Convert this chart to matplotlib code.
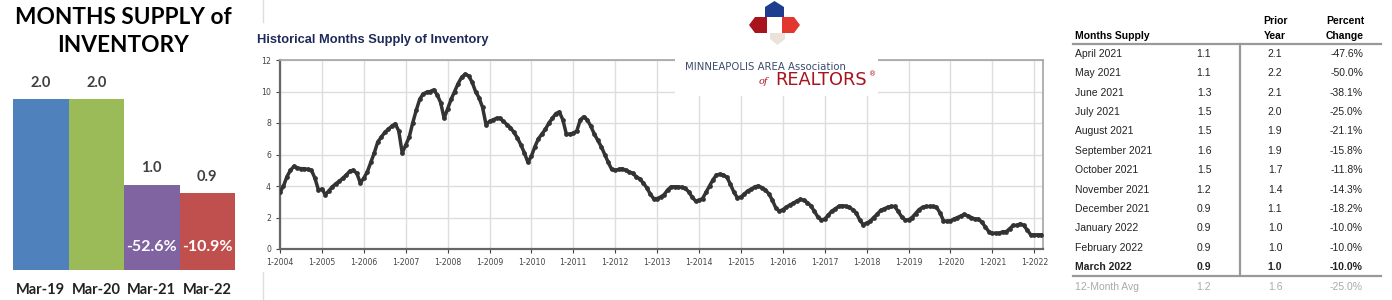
import matplotlib
matplotlib.use('Agg')
import matplotlib.pyplot as plt
from matplotlib.patches import Polygon, Rectangle
import numpy as np

# ---- bar panel data
bar_labels = ['Mar-19', 'Mar-20', 'Mar-21', 'Mar-22']
bar_values = [2.0, 2.0, 1.0, 0.9]
bar_change = ['', '', '-52.6%', '-10.9%']
bar_colors = ['#4F81BD', '#9BBB59', '#8064A2', '#C0504D']

# ---- historical monthly months-supply, Jan 2004 .. Mar 2022
supply_2004 = [3.6, 4.0, 4.6, 5.0, 5.25, 5.15, 5.1, 5.1, 5.05, 5.0, 4.5, 3.75]
supply_2005 = [3.8, 3.45, 3.7, 3.95, 4.15, 4.3, 4.5, 4.7, 4.95, 5.0, 4.8, 4.2]
supply_2006 = [4.5, 4.9, 5.5, 6.1, 6.8, 7.1, 7.4, 7.6, 7.8, 7.95, 7.5, 6.1]
supply_2007 = [6.6, 7.1, 8.0, 8.8, 9.5, 9.85, 9.95, 10.0, 10.1, 9.8, 9.3, 8.3]
supply_2008 = [8.9, 9.5, 10.0, 10.5, 10.9, 11.1, 11.0, 10.6, 10.0, 9.6, 9.0, 7.9]
supply_2009 = [8.1, 8.2, 8.3, 8.3, 8.1, 7.9, 7.7, 7.4, 7.05, 6.6, 6.1, 5.5]
supply_2010 = [5.9, 6.5, 7.0, 7.3, 7.6, 8.0, 8.3, 8.6, 8.7, 8.2, 7.3, 7.3]
supply_2011 = [7.35, 7.5, 8.2, 8.4, 8.2, 7.8, 7.3, 6.9, 6.5, 6.0, 5.5, 5.05]
supply_2012 = [5.0, 5.05, 5.1, 5.0, 4.9, 4.8, 4.6, 4.45, 4.2, 3.9, 3.5, 3.2]
supply_2013 = [3.2, 3.3, 3.45, 3.75, 3.95, 3.95, 3.95, 3.92, 3.85, 3.65, 3.3, 3.05]
supply_2014 = [3.1, 3.2, 3.6, 4.0, 4.4, 4.7, 4.75, 4.7, 4.55, 4.1, 3.6, 3.25]
supply_2015 = [3.3, 3.5, 3.7, 3.8, 3.95, 4.0, 3.9, 3.75, 3.5, 3.1, 2.6, 2.4]
supply_2016 = [2.5, 2.65, 2.8, 2.9, 3.05, 3.15, 3.1, 2.95, 2.75, 2.4, 2.05, 1.85]
supply_2017 = [1.9, 2.15, 2.4, 2.55, 2.7, 2.75, 2.72, 2.65, 2.5, 2.3, 1.85, 1.55]
supply_2018 = [1.65, 1.75, 2.0, 2.2, 2.45, 2.55, 2.65, 2.7, 2.7, 2.4, 2.05, 1.85]
supply_2019 = [1.85, 2.0, 2.25, 2.5, 2.65, 2.7, 2.7, 2.7, 2.65, 2.3, 1.8, 1.75]
supply_2020 = [1.8, 1.9, 2.0, 2.1, 2.2, 2.1, 2.0, 1.9, 1.9, 1.7, 1.4, 1.1]
supply_2021 = [1.0, 1.0, 1.0, 1.1, 1.1, 1.3, 1.5, 1.5, 1.6, 1.5, 1.2, 0.9]
supply_2022 = [0.9, 0.9, 0.9]
history = (supply_2004 + supply_2005 + supply_2006 + supply_2007 + supply_2008
           + supply_2009 + supply_2010 + supply_2011 + supply_2012 + supply_2013
           + supply_2014 + supply_2015 + supply_2016 + supply_2017 + supply_2018
           + supply_2019 + supply_2020 + supply_2021 + supply_2022)
years = list(range(2004, 2023))
year_labels = ['1-%d' % y for y in years]

# ---- table data
table_months = ['April 2021', 'May 2021', 'June 2021', 'July 2021', 'August 2021',
                'September 2021', 'October 2021', 'November 2021', 'December 2021',
                'January 2022', 'February 2022', 'March 2022']
table_current = ['1.1', '1.1', '1.3', '1.5', '1.5', '1.6', '1.5', '1.2', '0.9', '0.9', '0.9', '0.9']
table_prior = ['2.1', '2.2', '2.1', '2.0', '1.9', '1.9', '1.7', '1.4', '1.1', '1.0', '1.0', '1.0']
table_change = ['-47.6%', '-50.0%', '-38.1%', '-25.0%', '-21.1%', '-15.8%', '-11.8%',
                '-14.3%', '-18.2%', '-10.0%', '-10.0%', '-10.0%']
avg_row = ['12-Month Avg', '1.2', '1.6', '-25.0%']

W, H = 1392, 300
fig = plt.figure(figsize=(W / 100, H / 100), dpi=100)
fig.patch.set_facecolor('white')


def box(x0, y0, x1, y1):
    """figure fraction rect from pixel box (top-left origin)"""
    return [x0 / W, 1 - y1 / H, (x1 - x0) / W, (y1 - y0) / H]


# ---------------- bar panel
bx = fig.add_axes(box(13, 70, 235, 270))
pos = np.arange(len(bar_values))
bx.bar(pos, bar_values, width=1.0, color=bar_colors)
bx.set_xlim(-0.5, len(bar_values) - 0.5)
bx.set_ylim(0, 2.0 * 200 / 171)
bx.axis('off')
for i, v in enumerate(bar_values):
    bx.annotate('%.1f' % v, (i, v), xytext=(0, 16), textcoords='offset pixels',
                ha='center', va='center', fontsize=10.5, fontweight='bold',
                color='#404040', family='Lato')
    bx.annotate(bar_labels[i], (i, 0), xytext=(0, -20), textcoords='offset pixels',
                ha='center', va='center', fontsize=10.5, fontweight='bold',
                color='#222222', family='Lato')
    if bar_change[i]:
        bx.annotate(bar_change[i], (i, 0), xytext=(0, 23), textcoords='offset pixels',
                    ha='center', va='center', fontsize=11.5, fontweight='bold',
                    color='white', family='Lato')

fig.text(123 / W, 1 - 17 / H, 'MONTHS SUPPLY of', ha='center', va='center',
         fontsize=16.3, fontweight='bold', family='Lato', color='black')
fig.text(123 / W, 1 - 46 / H, 'INVENTORY', ha='center', va='center',
         fontsize=16.3, fontweight='bold', family='Lato', color='black')

# ---------------- historical line chart
ax = fig.add_axes(box(280, 60, 1043, 249))
idx = np.arange(len(history))
ax.plot(idx, history, color='#333333', lw=2.5, marker='o', ms=2.4, zorder=3)
ax.set_xlim(0, len(history) - 0.5)
ax.set_ylim(0, 12)
ax.set_yticks(range(0, 13, 2))
ax.set_xticks([12 * k for k in range(len(years))])
ax.set_xticklabels(year_labels)
ax.tick_params(labelsize=5.6, colors='#444444', length=3, width=0.8)
ax.grid(True, color='#dddddd', lw=1)
ax.set_axisbelow(True)
for s in ['left', 'bottom']:
    ax.spines[s].set_color('#666666')
    ax.spines[s].set_linewidth(1.6)
for s in ['top', 'right']:
    ax.spines[s].set_color('#aaaaaa')
    ax.spines[s].set_linewidth(1.3)

fig.text(257 / W, 1 - 40 / H, 'Historical Months Supply of Inventory',
         ha='left', va='center', fontsize=9.3, fontweight='bold',
         family='Liberation Sans', color='#1d2a5a')

# ---------------- overlay in pixel coordinates
ov = fig.add_axes([0, 0, 1, 1], zorder=10)
ov.set_xlim(0, W)
ov.set_ylim(H, 0)
ov.axis('off')

# panel separators
ov.plot([263, 263], [0, 22], color='#dddddd', lw=1)
ov.plot([263, 263], [272, 300], color='#dddddd', lw=1)

# logo
ov.add_patch(Rectangle((675, 54), 203, 42, facecolor='white', edgecolor='none'))
ov.add_patch(Polygon([(765, 17), (765, 7), (774.5, 1), (784, 7), (784, 17)],
                     facecolor='#1f3d8f', edgecolor='none'))
ov.add_patch(Polygon([(767, 17), (755, 17), (749, 25), (755, 33), (767, 33)],
                     facecolor='#a8141e', edgecolor='none'))
ov.add_patch(Polygon([(782, 17), (794, 17), (800, 25), (794, 33), (782, 33)],
                     facecolor='#e2372e', edgecolor='none'))
ov.add_patch(Polygon([(770, 33), (785, 33), (785, 39), (777.5, 45), (770, 39)],
                     facecolor='#ebe3da', edgecolor='none'))
ov.add_patch(Polygon([(771, 17), (778, 17), (778, 31), (771, 31)],
                     facecolor='white', edgecolor='none'))
ov.text(685, 67, 'MINNEAPOLIS AREA Association', ha='left', va='center',
        fontsize=7.3, color='#3b4a6b', family='DejaVu Sans')
ov.text(759, 81, 'of', ha='left', va='center', fontsize=7, style='italic',
        color='#a8141e', family='DejaVu Serif')
ov.text(775, 80, 'REALTORS', ha='left', va='center', fontsize=12.8,
        color='#a8141e', family='DejaVu Sans')
ov.text(869, 74, '®', ha='left', va='center', fontsize=5, color='#a8141e')

# ---------------- table
tf = ['Liberation Sans', 'DejaVu Sans']
x_name, x_cur, x_prior, x_chg = 1075, 1204, 1275, 1363
ov.text(x_name, 36, 'Months Supply', ha='left', va='center', fontsize=7.5,
        fontweight='bold', family=tf, color='black')
ov.text(x_prior, 21, 'Prior', ha='center', va='center', fontsize=7.5,
        fontweight='bold', family=tf)
ov.text(x_prior, 36, 'Year', ha='center', va='center', fontsize=7.5,
        fontweight='bold', family=tf)
ov.text(1345, 21, 'Percent', ha='center', va='center', fontsize=7.5,
        fontweight='bold', family=tf)
ov.text(1345, 36, 'Change', ha='center', va='center', fontsize=7.5,
        fontweight='bold', family=tf)
ov.plot([1073, 1381], [43.5, 43.5], color='#999999', lw=1.6)
ov.plot([1240, 1240], [43.5, 275], color='#999999', lw=1.6)
ov.plot([1073, 1381], [275.5, 275.5], color='#999999', lw=1.6)

row_y = np.linspace(54, 267, len(table_months))
for i, y in enumerate(row_y):
    wt = 'bold' if i == len(table_months) - 1 else 'normal'
    ov.text(x_name, y, table_months[i], ha='left', va='center', fontsize=7.5,
            fontweight=wt, family=tf, color='#222222')
    ov.text(x_cur, y, table_current[i], ha='center', va='center', fontsize=7.5,
            fontweight=wt, family=tf, color='#222222')
    ov.text(x_prior, y, table_prior[i], ha='center', va='center', fontsize=7.5,
            fontweight=wt, family=tf, color='#222222')
    ov.text(x_chg, y, table_change[i], ha='right', va='center', fontsize=7.5,
            fontweight=wt, family=tf, color='#222222')

ya = 286.5
ov.text(x_name, ya, avg_row[0], ha='left', va='center', fontsize=7.5, family=tf, color='#aaaaaa')
ov.text(x_cur, ya, avg_row[1], ha='center', va='center', fontsize=7.5, family=tf, color='#aaaaaa')
ov.text(x_prior, ya, avg_row[2], ha='center', va='center', fontsize=7.5, family=tf, color='#aaaaaa')
ov.text(x_chg, ya, avg_row[3], ha='right', va='center', fontsize=7.5, family=tf, color='#aaaaaa')

fig.savefig('out.png', dpi=100, facecolor='white')
